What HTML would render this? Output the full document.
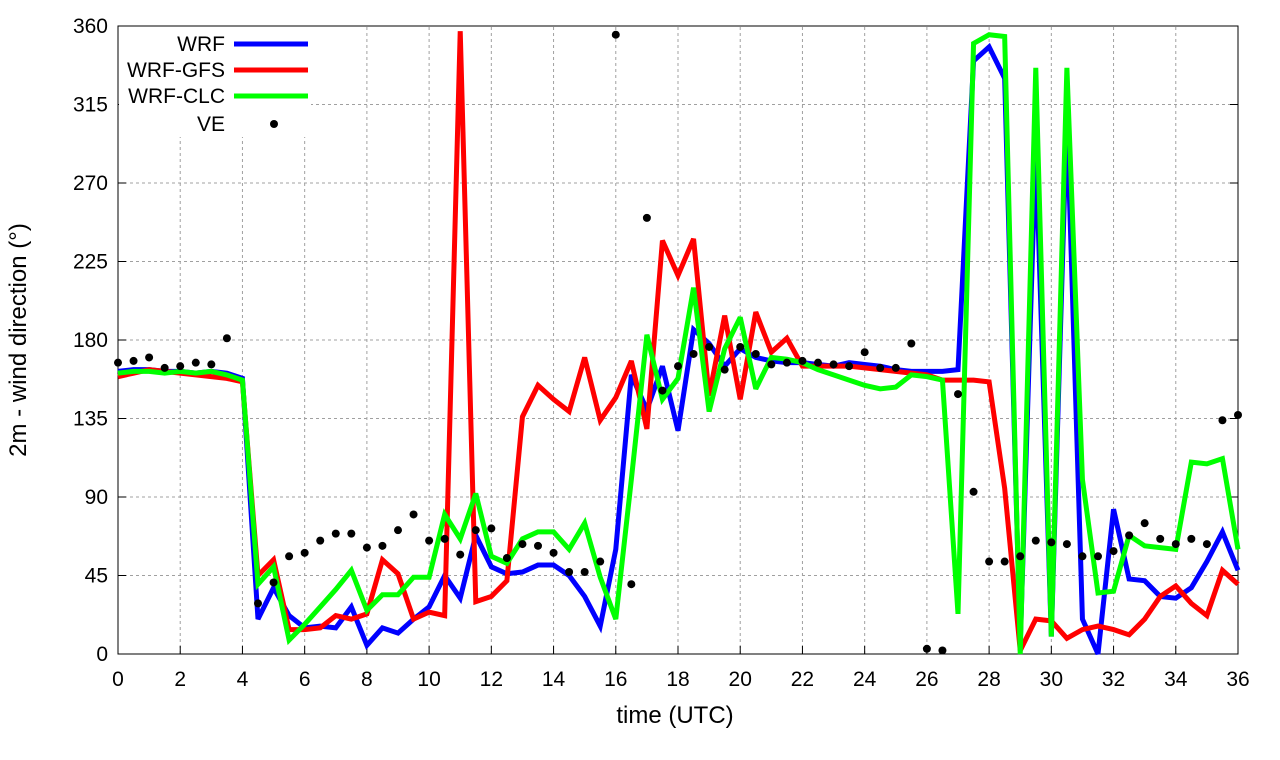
<!DOCTYPE html>
<html><head><meta charset="utf-8"><style>
html,body{margin:0;padding:0;background:#fff;}
svg{display:block;font-family:"Liberation Sans",sans-serif;}
</style></head><body>
<svg id="chart" width="1280" height="760" viewBox="0 0 1280 760" xmlns="http://www.w3.org/2000/svg">
<g id="grid"></g>
<g id="axes"></g>
<g id="series"></g>
<g id="legend"></g>
<text x="675" y="723" font-size="24" text-anchor="middle">time (UTC)</text>
<text transform="translate(26,340) rotate(-90)" font-size="24" text-anchor="middle">2m - wind direction (°)</text>
</svg>
<script>
const xTicks=[0,2,4,6,8,10,12,14,16,18,20,22,24,26,28,30,32,34,36];
const yTicks=[0,45,90,135,180,225,270,315,360];
const wrf=[162,163,163,162,162,161,162,161,158,20,38,22,15,16,15,27,5,15,12,20,27,45,32,68,50,46,47,51,51,45,33,16,60,160,140,165,128,186,178,165,175,170,168,167,167,166,165,167,166,165,163,162,162,162,163,340,348,330,5,290,10,310,20,0,83,43,42,33,32,38,53,70,48];
const wrfGfs=[159,161,163,162,161,160,159,158,156,45,54,14,14,15,22,20,23,54,46,20,24,22,357,30,33,42,136,154,146,139,170,134,147,168,129,237,217,238,148,194,146,196,173,181,165,165,165,165,164,163,162,161,160,157,157,157,156,95,2,20,19,9,14,16,14,11,20,33,39,29,22,48,40];
const wrfClc=[161,162,162,161,162,161,162,160,157,40,50,8,17,27,37,48,25,34,34,44,44,80,66,92,56,52,66,70,70,60,75,44,20,100,183,146,158,210,139,175,193,152,170,169,167,163,160,157,154,152,153,160,159,157,23,350,355,354,0,336,10,336,100,35,36,68,62,61,60,110,109,112,60];
const veTimes=[0,0.5,1,1.5,2,2.5,3,3.5,4,4.5,5,5.5,6,6.5,7,7.5,8,8.5,9,9.5,10,10.5,11,11.5,12,12.5,13,13.5,14,14.5,15,15.5,16,16.5,17,17.5,18,18.5,19,19.5,20,20.5,21,21.5,22,22.5,23,23.5,24,24.5,25,25.5,26,26.5,27,27.5,28,28.5,29,29.5,30,30.5,31,31.5,32,32.5,33,33.5,34,34.5,35,35.5,36];
const veValues=[167,168,170,164,165,167,166,181,331,29,41,56,58,65,69,69,61,62,71,80,65,66,57,71,72,55,63,62,58,47,47,53,355,40,250,151,165,172,176,163,176,172,166,167,168,167,166,165,173,164,164,178,3,2,149,93,53,53,56,65,64,63,56,56,59,68,75,66,63,66,63,134,137];
const NS="http://www.w3.org/2000/svg";
const X0=118,X1=1238,Y0=654,Y1=26;
function sx(t){return X0+(X1-X0)*t/36;}
function sy(v){return Y0-(Y0-Y1)*v/360;}
function mk(tag,attrs,parent){const e=document.createElementNS(NS,tag);for(const k in attrs)e.setAttribute(k,attrs[k]);parent.appendChild(e);return e;}
const grid=document.getElementById('grid'),axes=document.getElementById('axes'),series=document.getElementById('series'),legend=document.getElementById('legend');
xTicks.forEach(t=>{
 const g=mk('line',{x1:sx(t),x2:sx(t),y1:Y0,y2:Y1,stroke:'#a0a0a0','stroke-width':1,'stroke-dasharray':'3,3'},grid);
 
 
 const tk=mk('line',{x1:sx(t),x2:sx(t),y1:Y0,y2:Y0-8,stroke:'#000','stroke-width':1},axes);
 
 
 const tx=mk('text',{x:sx(t),y:Y0+32,'font-size':21,'text-anchor':'middle'},axes);
 tx.textContent=t;
 
 
});
yTicks.forEach(v=>{
 const g=mk('line',{x1:X0,x2:X1,y1:sy(v),y2:sy(v),stroke:'#a0a0a0','stroke-width':1,'stroke-dasharray':'3,3'},grid);
 
 
 const tk=mk('line',{x1:X0,x2:X0+8,y1:sy(v),y2:sy(v),stroke:'#000','stroke-width':1},axes);
 
 
 const tk2=mk('line',{x1:X1,x2:X1-8,y1:sy(v),y2:sy(v),stroke:'#000','stroke-width':1},axes);
 
 
 const tx=mk('text',{x:X0-10,y:sy(v)+7,'font-size':21,'text-anchor':'end'},axes);
 tx.textContent=v;
 
 
});
const frame=mk('rect',{x:X0,y:Y1,width:X1-X0,height:Y0-Y1,fill:'none',stroke:'#000','stroke-width':1},axes);


function line(vals,color,name){
 const pts=vals.map((v,i)=>sx(i*0.5)+','+sy(v)).join(' ');
 const p=mk('polyline',{points:pts,fill:'none',stroke:color,'stroke-width':5,'stroke-linejoin':'miter','stroke-miterlimit':3},series);
 
 
}
line(wrf,'#0000ff','wrf-line');
line(wrfGfs,'#ff0000','wrf-gfs-line');
line(wrfClc,'#00ff00','wrf-clc-line');
veTimes.forEach((t,i)=>{
 const c=mk('circle',{cx:sx(t),cy:sy(veValues[i]),r:4,fill:'#000'},series);
 
 
});
const bg=mk('rect',{x:119,y:27,width:192,height:110,fill:'#fff'},legend);


[['WRF','#0000ff',44],['WRF-GFS','#ff0000',70],['WRF-CLC','#00ff00',96]].forEach(([n,c,y])=>{
 const t=mk('text',{x:225,y:y+7,'font-size':21,'text-anchor':'end'},legend);
 t.textContent=n;
 
 
 const l=mk('line',{x1:234,x2:308,y1:y,y2:y,stroke:c,'stroke-width':5},legend);
 
 
});
const vt=mk('text',{x:225,y:131,'font-size':21,'text-anchor':'end'},legend);
vt.textContent='VE';


const vd=mk('circle',{cx:274,cy:124,r:4,fill:'#000'},legend);


</script>
</body></html>
